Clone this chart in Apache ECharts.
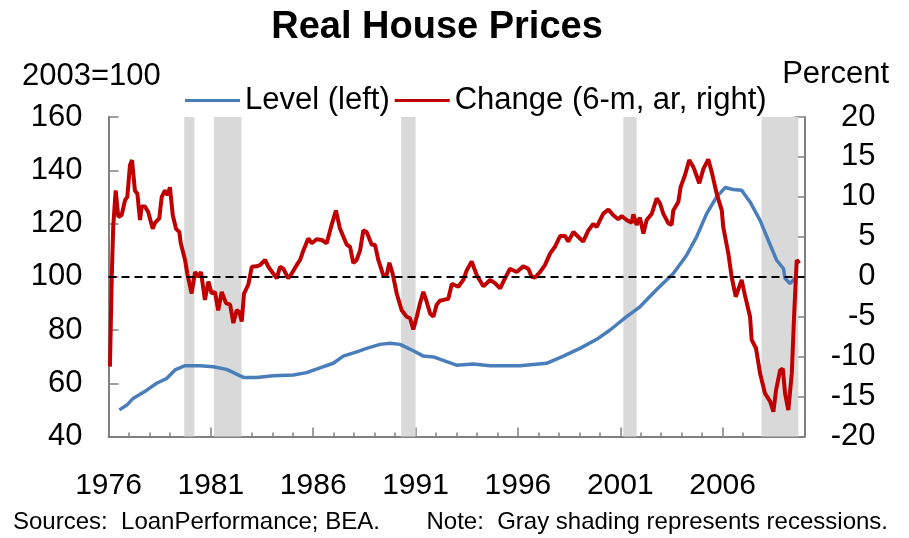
<!DOCTYPE html>
<html lang="en">
<head>
    <meta charset="UTF-8">
    <title>Real House Prices</title>
    <script src="https://cdn.jsdelivr.net/npm/echarts@6.0.0/dist/echarts.min.js"></script>
    <style>
        html,body{
            height:100%;
            width:100%;
            margin:0;
            padding:0;
            background:#fff;
        }
    </style>
</head>
<body>
    <div id="main" style="width:909px;height:538px"></div>
    <script>
        // level of real house prices, 2003=100 (left axis)
        var levelData = [
            [1976.53,50.0],[1976.9,51.8],[1977.2,54.3],[1977.87,57.4],[1978.35,60],[1978.84,61.8],
            [1979.25,65],[1979.74,66.6],[1980.47,66.6],[1981.12,66.2],[1981.77,65.2],[1982.59,62.2],
            [1983.24,62.2],[1984.05,62.8],[1985.03,63.1],[1985.68,64],[1986.33,65.8],[1986.98,67.5],
            [1987.47,70.2],[1988.12,71.8],[1988.61,73.1],[1989.26,74.6],[1989.75,75.0],[1990.24,74.6],
            [1990.89,72.2],[1991.38,70.2],[1991.87,69.9],[1992.52,68.1],[1993.0,66.8],[1993.82,67.2],
            [1994.64,66.6],[1996.1,66.6],[1997.4,67.5],[1998.22,70.2],[1999.03,73.1],[1999.85,76.5],
            [2000.5,80],[2001.31,85],[2001.96,88.7],[2002.78,95.2],[2003.59,101.2],[2004.24,108.1],
            [2004.73,115],[2005.22,123.7],[2005.71,130],[2006.12,133.5],[2006.52,132.8],[2006.93,132.5],
            [2007.34,128.1],[2007.83,121.2],[2008.23,113.7],[2008.64,106.2],[2008.97,103.1],[2009.05,99.4],
            [2009.29,97.5],[2009.62,100]
        ];

        // 6-month change, annual rate, percent (right axis)
        var changeData = [
            [1976.07,-11.25],[1976.16,0],[1976.23,6.25],[1976.35,10.8],[1976.48,7.5],[1976.64,7.7],
            [1976.81,9.6],[1976.92,10.0],[1977.05,14.0],[1977.15,14.6],[1977.29,10.8],[1977.41,10.4],
            [1977.54,7.1],[1977.62,8.8],[1977.78,8.8],[1977.94,8.1],[1978.03,8.3],[1978.16,6.0],
            [1978.27,6.75],[1978.48,7.3],[1978.6,10.0],[1978.76,10.8],[1978.89,10.2],[1979.0,11.2],
            [1979.14,7.7],[1979.3,6.0],[1979.46,5.6],[1979.53,4.2],[1979.74,2.1],[1979.85,0.4],
            [1980.06,-2.1],[1980.23,0.6],[1980.39,0],[1980.52,0.6],[1980.71,-2.9],[1980.88,-0.6],
            [1981.04,-2.1],[1981.2,-1.9],[1981.36,-4.2],[1981.53,-1.9],[1981.74,-3.3],[1981.94,-3.5],
            [1982.1,-5.8],[1982.26,-4.2],[1982.39,-4.4],[1982.51,-5.6],[1982.62,-2.1],[1982.83,-1.0],
            [1983.0,1.25],[1983.24,1.3],[1983.4,1.45],[1983.65,2.1],[1983.81,1.25],[1984.05,0.4],
            [1984.22,-0.2],[1984.38,1.25],[1984.54,1.0],[1984.78,-0.2],[1984.95,0.4],[1985.19,1.45],
            [1985.36,2.1],[1985.52,3.3],[1985.76,4.8],[1985.93,4.2],[1986.17,4.7],[1986.42,4.6],
            [1986.66,4.2],[1986.9,6.5],[1987.11,8.3],[1987.31,6.0],[1987.64,4.0],[1987.8,3.75],
            [1987.96,1.7],[1988.12,2.1],[1988.29,3.3],[1988.45,5.8],[1988.61,5.6],[1988.86,4.0],
            [1989.02,4.0],[1989.18,2.1],[1989.42,0.2],[1989.59,0.2],[1989.72,1.75],[1989.88,0.4],
            [1990.08,-2.1],[1990.32,-4.2],[1990.57,-5.0],[1990.73,-5.2],[1990.89,-6.6],[1991.06,-5.0],
            [1991.22,-3.3],[1991.38,-1.9],[1991.54,-3.1],[1991.71,-4.6],[1991.87,-5.0],[1992.03,-3.5],
            [1992.19,-3.0],[1992.36,-2.9],[1992.6,-2.75],[1992.77,-0.9],[1993.09,-1.25],[1993.33,-0.4],
            [1993.5,0.8],[1993.74,1.9],[1993.99,0.2],[1994.31,-1.2],[1994.64,-0.4],[1994.88,-0.8],
            [1995.13,-1.45],[1995.37,-0.2],[1995.61,1.0],[1995.94,0.6],[1996.26,1.3],[1996.51,1.0],
            [1996.67,0],[1996.84,-0.1],[1997.08,0.6],[1997.32,1.45],[1997.57,2.9],[1997.81,3.75],
            [1998.06,5.1],[1998.3,5.1],[1998.46,4.4],[1998.71,5.6],[1998.87,5.2],[1999.19,4.4],
            [1999.44,5.8],[1999.68,6.6],[1999.85,6.25],[2000.17,7.9],[2000.42,8.4],[2000.66,7.7],
            [2000.9,7.2],[2001.07,7.6],[2001.31,7.1],[2001.56,6.75],[2001.64,7.8],[2001.8,6.5],
            [2001.96,7.4],[2002.13,5.4],[2002.29,7.1],[2002.54,7.9],[2002.78,9.8],[2002.94,9.2],
            [2003.1,7.9],[2003.35,6.7],[2003.51,6.5],[2003.59,8.3],[2003.84,9.4],[2003.95,11.25],
            [2004.16,12.7],[2004.37,14.6],[2004.57,13.75],[2004.86,11.7],[2005.06,13.5],[2005.3,14.7],
            [2005.47,13.1],[2005.71,10.4],[2005.96,8.3],[2006.03,6.25],[2006.28,2.9],[2006.44,0],
            [2006.64,-2.5],[2006.93,-0.4],[2007.09,-2.3],[2007.34,-5.0],[2007.42,-7.9],[2007.63,-8.95],
            [2007.83,-12.1],[2008.07,-14.6],[2008.32,-15.6],[2008.48,-16.9],[2008.61,-14.2],[2008.81,-11.7],
            [2008.94,-11.5],[2009.05,-14.6],[2009.21,-16.7],[2009.38,-12.1],[2009.49,-5],[2009.62,2.1],
            [2009.75,1.7]
        ];

        // recession periods (gray shading)
        var recessionStart = [1979.7, 1981.15, 1990.3, 2001.15, 2007.9];
        var recessionEnd   = [1980.2, 1982.5, 1991.0, 2001.8, 2009.7];

        var seriesNames = ['Level (left)', 'Change (6-m, ar, right)'];

        var font = '"Liberation Sans", Arial, sans-serif';
        var gray = '#808080';

        var recessionAreas = recessionStart.map(function (s, i) {
            return [{xAxis: s}, {xAxis: recessionEnd[i]}];
        });

        var myChart = echarts.init(document.getElementById('main'));

        var option = {
            animation: false,
            backgroundColor: '#fff',
            textStyle: {fontFamily: font},
            grid: {left: 108.5, right: 104.5, top: 117, bottom: 101.5, containLabel: false},
            graphic: [
                {type: 'text', x: 437, y: 28, style: {text: 'Real House Prices', font: 'bold 38px ' + font, fill: '#000', align: 'center', verticalAlign: 'middle'}},
                {type: 'text', x: 22, y: 76, style: {text: '2003=100', font: '31px ' + font, fill: '#000', align: 'left', verticalAlign: 'middle'}},
                {type: 'text', x: 889, y: 74, style: {text: 'Percent', font: '31px ' + font, fill: '#000', align: 'right', verticalAlign: 'middle'}},
                {type: 'text', x: 13, y: 522, style: {text: 'Sources:  LoanPerformance; BEA.', font: '24px ' + font, fill: '#000', align: 'left', verticalAlign: 'middle'}},
                {type: 'text', x: 888, y: 522, style: {text: 'Note:  Gray shading represents recessions.', font: '24px ' + font, fill: '#000', align: 'right', verticalAlign: 'middle'}}
            ],
            legend: {
                data: seriesNames,
                left: 180,
                top: 80,
                icon: 'rect',
                itemWidth: 55,
                itemHeight: 3,
                itemGap: 5,
                textStyle: {fontSize: 31, color: '#000', fontFamily: font}
            },
            xAxis: [
                {
                    type: 'value',
                    min: 1976,
                    max: 2010,
                    interval: 1,
                    axisLine: {show: true, onZero: false, lineStyle: {color: gray, width: 2}},
                    axisTick: {show: true, inside: true, length: 4, lineStyle: {color: gray, width: 1.5}},
                    axisLabel: {
                        margin: 34,
                        fontSize: 30,
                        color: '#000',
                        showMaxLabel: false,
                        formatter: function (v) {
                            return (v - 1976) % 5 === 0 ? String(v) : '';
                        }
                    },
                    splitLine: {show: false}
                },
                {
                    type: 'value',
                    min: 1976,
                    max: 2010,
                    interval: 5,
                    position: 'bottom',
                    offset: 0,
                    axisLine: {show: false, onZero: false},
                    axisTick: {show: true, inside: true, length: 9, lineStyle: {color: gray, width: 1.5}},
                    axisLabel: {show: false},
                    splitLine: {show: false}
                }
            ],
            yAxis: [
                {
                    type: 'value',
                    min: 40,
                    max: 160,
                    interval: 20,
                    axisLine: {show: true, lineStyle: {color: gray, width: 2}},
                    axisTick: {show: true, inside: true, length: 10, lineStyle: {color: gray, width: 1.5}},
                    axisLabel: {fontSize: 31, color: '#000', margin: 26},
                    splitLine: {show: false}
                },
                {
                    type: 'value',
                    min: -20,
                    max: 20,
                    interval: 5,
                    position: 'right',
                    axisLine: {show: true, lineStyle: {color: gray, width: 2}},
                    axisTick: {show: true, inside: true, length: 10, lineStyle: {color: gray, width: 1.5}},
                    axisLabel: {fontSize: 31, color: '#000', margin: 71, align: 'right'},
                    splitLine: {show: false}
                }
            ],
            series: [
                {
                    // recession shading
                    type: 'line',
                    data: [],
                    silent: true,
                    z: 1,
                    markArea: {
                        silent: true,
                        itemStyle: {color: '#D9D9D9'},
                        data: recessionAreas
                    }
                },
                {
                    name: seriesNames[0],
                    type: 'line',
                    xAxisIndex: 0,
                    yAxisIndex: 0,
                    data: levelData,
                    symbol: 'none',
                    z: 3,
                    color: '#4A7EBB',
                    lineStyle: {color: '#4A7EBB', width: 3.5}
                },
                {
                    name: seriesNames[1],
                    type: 'line',
                    xAxisIndex: 0,
                    yAxisIndex: 1,
                    data: changeData,
                    symbol: 'none',
                    z: 4,
                    color: '#C00000',
                    lineStyle: {color: '#C00000', width: 4},
                    markLine: {
                        silent: true,
                        symbol: ['none', 'none'],
                        label: {show: false},
                        lineStyle: {color: '#000', type: [8, 5], width: 2},
                        data: [{yAxis: 0}]
                    }
                }
            ]
        };

        myChart.setOption(option);
    </script>
</body>
</html>
